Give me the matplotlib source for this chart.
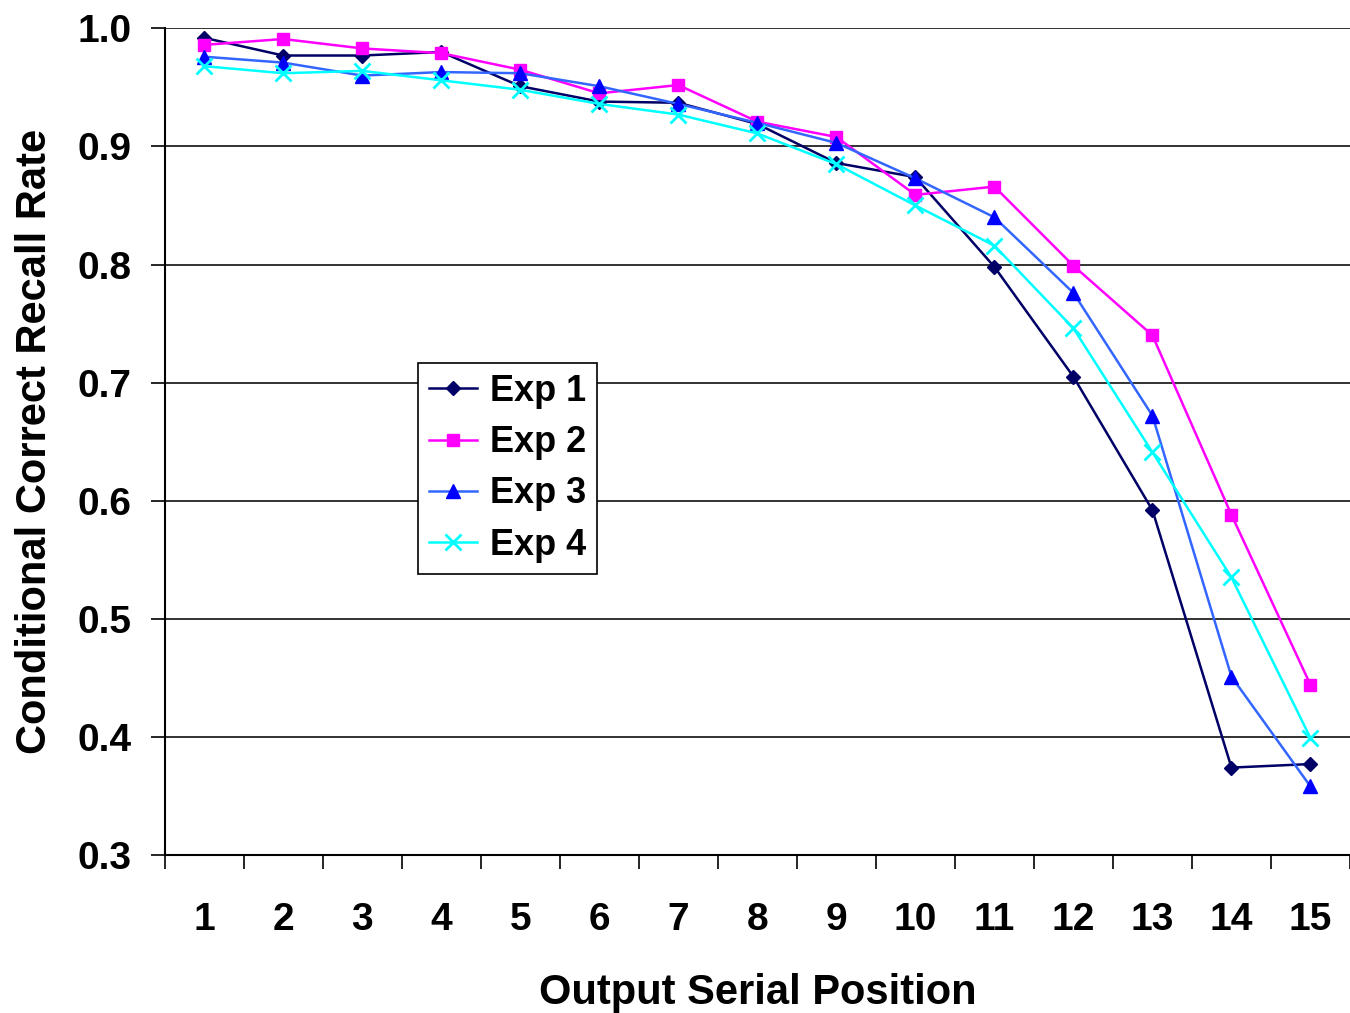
import numpy as np
import matplotlib.pyplot as plt

positions = list(range(1, 16))
exp1 = [0.992, 0.977, 0.977, 0.980, 0.951, 0.938, 0.937, 0.919, 0.886, 0.874, 0.798, 0.705, 0.592, 0.374, 0.377]
exp2 = [0.986, 0.991, 0.983, 0.979, 0.965, 0.945, 0.952, 0.921, 0.908, 0.859, 0.866, 0.799, 0.740, 0.588, 0.444]
exp3 = [0.976, 0.971, 0.960, 0.963, 0.962, 0.951, 0.936, 0.920, 0.903, 0.873, 0.840, 0.776, 0.672, 0.451, 0.358]
exp4 = [0.968, 0.962, 0.964, 0.956, 0.948, 0.936, 0.927, 0.911, 0.885, 0.850, 0.816, 0.746, 0.641, 0.535, 0.399]
labels = ['Exp 1', 'Exp 2', 'Exp 3', 'Exp 4']
yticks = [0.3, 0.4, 0.5, 0.6, 0.7, 0.8, 0.9, 1.0]

plt.rcParams['font.family'] = ['Liberation Sans', 'DejaVu Sans']

fig = plt.figure(figsize=(13.5, 10.13), dpi=100)
ax = fig.add_axes([0.122, 0.156, 0.878, 0.816])

ax.plot(positions, exp1, color='#000066', marker='D', markersize=7, lw=1.8, label=labels[0])
ax.plot(positions, exp2, color='#ff00ff', marker='s', markersize=9, lw=1.8, label=labels[1])
ax.plot(positions, exp3, color='#3366ff', marker='^', markersize=10, lw=1.8,
        markerfacecolor='#0000ff', markeredgecolor='#0000ff', label=labels[2])
ax.plot(positions, exp4, color='#00ffff', marker='x', markersize=11, mew=2, lw=1.8, label=labels[3])

ax.set_xlim(0.5, 15.5)
ax.set_ylim(0.3, 1.0)
ax.set_yticks(yticks)
ax.set_yticklabels([f'{v:.1f}' for v in yticks], fontsize=28, fontweight='bold')
ax.set_xticks(positions)
ax.set_xticklabels([str(p) for p in positions], fontsize=28, fontweight='bold')
ax.set_xticks(np.arange(0.5, 16, 1), minor=True)
ax.tick_params(axis='x', which='major', length=0, pad=34)
ax.tick_params(axis='x', which='minor', length=10, width=1.2, direction='out')
ax.tick_params(axis='y', length=10, width=1.2, direction='out', pad=14)

ax.grid(axis='y', color='#222222', lw=1.3)
for s in ['top', 'right']:
    ax.spines[s].set_visible(False)
for s in ['left', 'bottom']:
    ax.spines[s].set_linewidth(1.5)
ax.set_axisbelow(True)

ax.set_xlabel('Output Serial Position', fontsize=30, fontweight='bold', labelpad=25)
ax.set_ylabel('Conditional Correct Recall Rate', fontsize=30, fontweight='bold', labelpad=16)

leg = ax.legend(loc='upper left', bbox_to_anchor=(0.2135, 0.595), prop={'size': 26, 'weight': 'bold'},
                fancybox=False, framealpha=1, edgecolor='black', borderaxespad=0,
                handlelength=1.35, handletextpad=0.35, labelspacing=0.45, borderpad=0.3)
leg.get_frame().set_linewidth(1.2)

fig.savefig('out.png', dpi=100)
